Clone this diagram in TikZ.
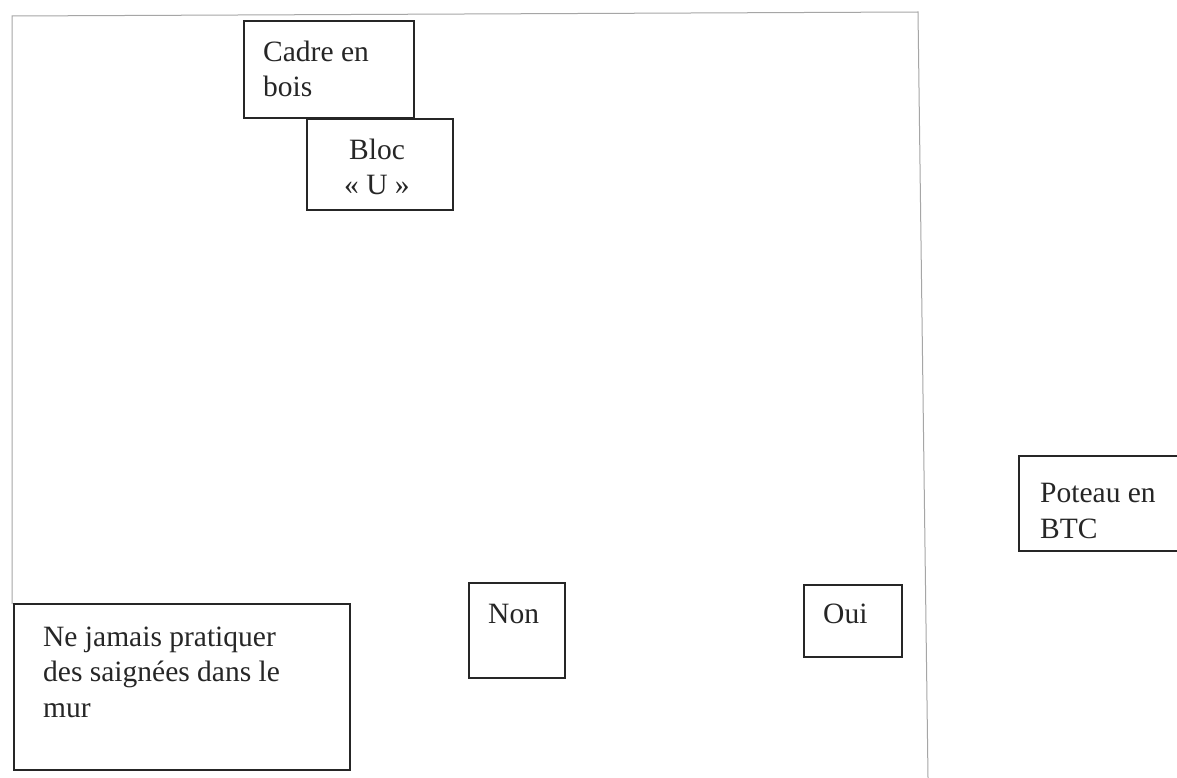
\documentclass[tikz,border=0pt]{standalone}
\usepackage{fontspec}
\setmainfont{Liberation Serif}
\begin{document}
\begin{tikzpicture}[x=1pt,y=-1pt,
  box/.style={draw=black!85, line width=1.6pt, rectangle, inner sep=0pt, anchor=north west},
  txt/.style={inner sep=0pt, anchor=base west, align=left, text=black!85,
    font=\fontsize{29.5}{35.5}\selectfont},
  frameline/.style={draw=black!35, line width=1pt}]
\useasboundingbox (0,0) rectangle (1177,778);
\clip (0,0) rectangle (1177,778);
\fill[white] (0,0) rectangle (1177,778);
% outer frame
\coordinate (fa) at (12,604);
\coordinate (fb) at (12,16);
\coordinate (fc) at (918,12);
\coordinate (fd) at (928,778);
\draw[frameline] (fa) -- (fb) -- (fc) -- (fd);
% boxes (text anchor base = baseline of last line)
\node[box, minimum width=170pt, minimum height=97pt] (cadre) at (243,20) {};
\node[txt] (cadret) at (263,97) {Cadre en\\bois};
\node[box, minimum width=146pt, minimum height=91pt] (bloc) at (306,118) {};
\node[txt, align=center, anchor=base] (bloct) at (377,195) {Bloc\\« U »};
\node[box, minimum width=336pt, minimum height=166pt] (ne) at (13,603) {};
\node[txt] (net) at (43,717) {Ne jamais pratiquer\\des saignées dans le\\mur};
\node[box, minimum width=96pt, minimum height=95pt] (non) at (468,582) {};
\node[txt] (nont) at (488,623) {Non};
\node[box, minimum width=98pt, minimum height=72pt] (oui) at (803,584) {};
\node[txt] (ouit) at (823,623) {Oui};
\node[box, minimum width=200pt, minimum height=95pt] (poteau) at (1018,455) {};
\node[txt] (poteaut) at (1040,538) {Poteau en\\BTC};
\end{tikzpicture}
\end{document}
